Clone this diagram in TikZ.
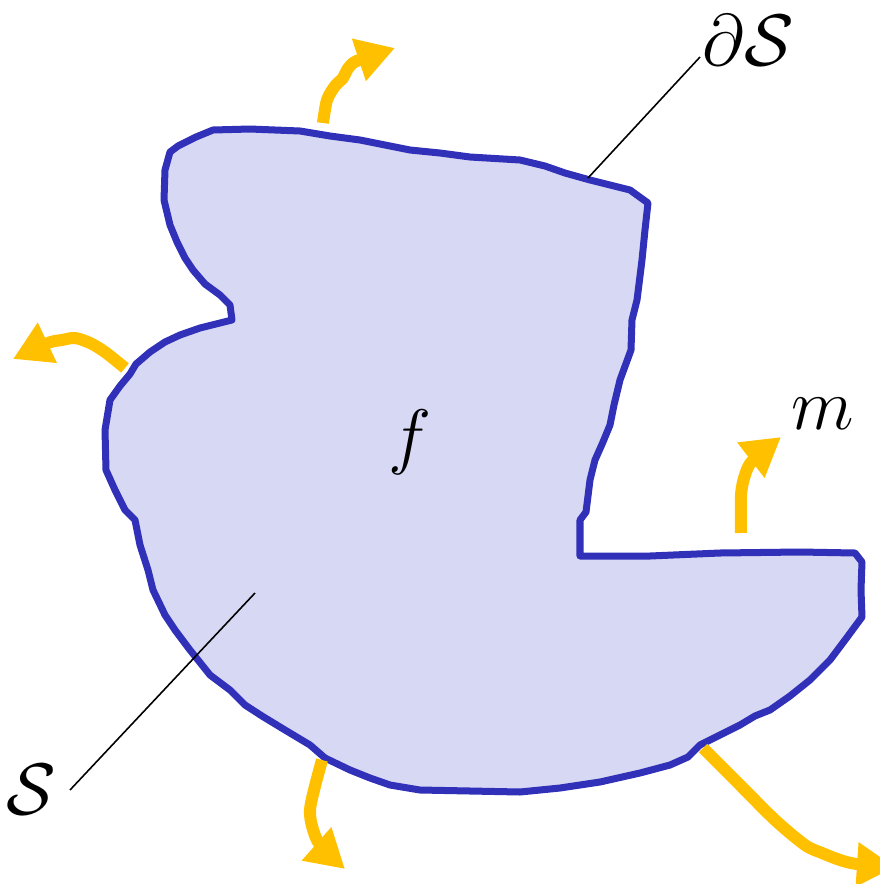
\documentclass[tikz,border=0pt]{standalone}
\usepackage{amsmath,amssymb}
\usepackage{tikz}
\usetikzlibrary{arrows.meta,calc}
\definecolor{edgeCol}{RGB}{48,48,184}
\definecolor{bodyCol}{RGB}{215,216,243}
\definecolor{fluxCol}{RGB}{255,192,0}
\tikzset{
  body/.style={draw=edgeCol,fill=bodyCol,line width=0.07cm,line join=round},
  flux/.style={draw=fluxCol,line width=0.12cm,
               -{Triangle[length=0.38cm,width=0.42cm]}},
  lead/.style={draw=black,line width=0.45pt},
  lab/.style={font=\fontsize{20}{24}\selectfont,inner sep=0pt},
}

\begin{document}
\begin{tikzpicture}[x=0.01cm,y=-0.01cm]
  \useasboundingbox (0,0) rectangle (880,884);
  % the region S
  \draw[body] (170,152) -- (178,146) -- (196,137) -- (213,130) -- (250,129)
    -- (300,131) -- (330,136) -- (360,140) -- (410,150) -- (440,153) -- (470,157)
    -- (520,160) -- (545,166) -- (565,173) -- (590,180) -- (630,190) -- (648,203)
    -- (645,230) -- (642,260) -- (637,300) -- (632,320) -- (631,350) -- (620,380)
    -- (614,405) -- (610,425) -- (603,442) -- (595,460) -- (590,480) -- (586,512)
    -- (580,520) -- (580,556) -- (650,556) -- (720,553) -- (800,552) -- (855,553)
    -- (862,562) -- (861,590) -- (862,617) -- (848,636) -- (830,660) -- (810,680)
    -- (790,696) -- (770,710) -- (755,716) -- (740,725) -- (720,735) -- (700,745)
    -- (688,757) -- (670,765) -- (640,773) -- (600,782) -- (560,788) -- (520,792)
    -- (470,791) -- (420,790) -- (390,785) -- (370,778) -- (350,770) -- (325,758)
    -- (310,745) -- (285,730) -- (262,716) -- (245,705) -- (230,690) -- (210,675)
    -- (190,650) -- (175,630) -- (165,615) -- (153,590) -- (148,570) -- (140,545)
    -- (135,520) -- (125,510) -- (115,490) -- (106,470) -- (105,430) -- (110,400)
    -- (120,386) -- (130,374) -- (136,364) -- (150,352) -- (165,342) -- (180,335)
    -- (200,328) -- (232,320) -- (230,305) -- (220,295) -- (205,284) -- (193,270)
    -- (185,258) -- (177,242) -- (170,225) -- (164,200) -- (165,170) -- cycle;
  % fluxes through the boundary
  \draw[flux] plot[smooth] coordinates {(323,123) (327,100) (335,86) (343,78)
    (347,70) (353,63) (362,59) (395,48)};
  \draw[flux] plot[smooth] coordinates {(125,368) (105,352) (90,343) (75,338)
    (62,340) (48,343) (13,359)};
  \draw[flux] plot[smooth] coordinates {(741,533) (741,495) (745,475) (753,460)
    (781,437)};
  \draw[flux] plot[smooth] coordinates {(322,760) (314,790) (310,810) (312,826)
    (320,845) (345,869)};
  \draw[flux] plot[smooth] coordinates {(703,748) (740,785) (775,820) (805,845)
    (822,853) (840,860) (857,864) (895,867)};
  % labels
  \node[lab] (f) at (410,442) {$f$};
  \node[lab] (m) at (823,414) {$m$};
  \node[lab] (dS) at (748,40) {$\partial\mathcal{S}$};
  \node[lab] (S) at (31,790) {$\mathcal{S}$};
  \coordinate (dSpt) at (588,178);
  \coordinate (dSend) at (700,57);
  \coordinate (Spt) at (255,593);
  \coordinate (Send) at (70,790);
  \draw[lead] (dSpt) -- (dSend);
  \draw[lead] (Spt) -- (Send);
\end{tikzpicture}
\end{document}
